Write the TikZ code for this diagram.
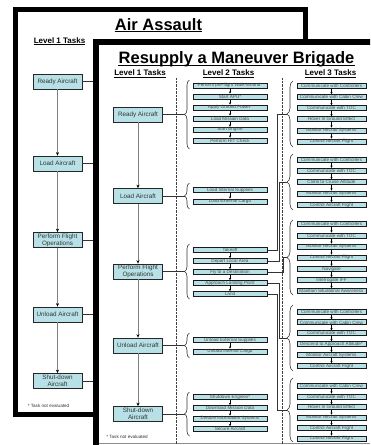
\documentclass[tikz,border=0pt]{standalone}
\usepackage{fontspec}
\setmainfont{Liberation Sans}
\usetikzlibrary{arrows.meta,decorations.pathreplacing}
\definecolor{boxfill}{RGB}{183,225,230}
\begin{document}
\begin{tikzpicture}[x=1pt,y=-1pt,
  l1box/.style={draw=black!85,line width=0.7pt,fill=boxfill,minimum width=49pt,minimum height=15pt,inner sep=0.5pt,align=center,text=black!80,font=\fontsize{6.3}{6.8}\selectfont},
  l2box/.style={draw=black!90,line width=1pt,fill=boxfill,minimum width=74pt,minimum height=5pt,inner sep=0pt,text=black!70,font=\fontsize{4.6}{4.6}\selectfont},
  l3box/.style={l2box,minimum width=69pt},
  titletext/.style={font=\fontsize{16.5}{18}\selectfont\bfseries,inner sep=0pt,anchor=base},
  headtext/.style={font=\fontsize{8}{9}\selectfont\bfseries,inner sep=0pt,anchor=base},
  notetext/.style={font=\fontsize{4.6}{5}\selectfont,inner sep=0pt,text=black!80},
  uline/.style={line width=#1},
  vline/.style={draw=black!50,line width=0.9pt,-{Stealth[length=3.5pt,width=3pt,color=black]}},
  hline/.style={draw=black!80,line width=0.7pt},
  sarr/.style={draw=black,line width=0.5pt,-{Stealth[length=2.2pt,width=2.2pt]}},
  bracetwo/.style={draw=black!80,line width=0.6pt,decorate,decoration={brace,amplitude=5pt,aspect=0.5}},
  bracethree/.style={draw=black!80,line width=0.6pt,decorate,decoration={brace,amplitude=6pt,aspect=0.5}},
  dotline/.style={draw=black!75,line width=0.5pt,dash pattern=on 0.7pt off 0.7pt}
]
\useasboundingbox (0,0) rectangle (370,445);
\clip (0,0) rectangle (370,445);
\fill[white] (0,0) rectangle (370,445);

% ---------------- back panel: Air Assault ----------------
\draw[line width=5pt,fill=white] (15.5,9.5) rectangle (305.5,414.5);
\node[titletext] (tAA) at (158.5,30) {Air Assault};
\draw[uline=1.1pt] ([yshift=-1.8pt]tAA.base west) -- ([yshift=-1.8pt]tAA.base east);
\node[headtext] (bH1) at (59.5,43.3) {Level 1 Tasks};
\draw[uline=0.6pt] ([yshift=-1.3pt]bH1.base west) -- ([yshift=-1.3pt]bH1.base east);

\node[l1box] (bR) at (57.5,81.5) {Ready Aircraft};
\node[l1box] (bL) at (57.5,163.5) {Load Aircraft};
\node[l1box] (bP) at (57.5,240) {Perform Flight\\Operations};
\node[l1box] (bU) at (57.5,314.5) {Unload Aircraft};
\node[l1box] (bS) at (57.5,381) {Shut-down\\Aircraft};
\draw[vline] (bR.south) -- (bL.north);
\draw[vline] (bL.south) -- (bP.north);
\draw[vline] (bP.south) -- (bU.north);
\draw[vline] (bU.south) -- (bS.north);
\foreach \n in {bR,bL,bP,bU,bS}{
  \coordinate (\n e) at (93,0 |- \n.east);
  \draw[hline] (\n.east) -- (\n e);
}
\node[notetext] (bNote) at (48.5,406) {* Task not evaluated};

% ---------------- front panel: Resupply a Maneuver Brigade ----------------
\draw[line width=6pt,fill=white] (96,42) rectangle (420,520);
\draw[black!45,line width=0.8pt] (99,443.5) -- (370,443.5);
\node[titletext] (tRB) at (236.5,63.5) {Resupply a Maneuver Brigade};
\draw[uline=1.1pt] ([yshift=-1.8pt]tRB.base west) -- ([yshift=-1.8pt]tRB.base east);
\node[headtext] (fH1) at (140,75.5) {Level 1 Tasks};
\node[headtext] (fH2) at (228.5,75.5) {Level 2 Tasks};
\node[headtext] (fH3) at (330.5,75.5) {Level 3 Tasks};
\foreach \h in {fH1,fH2,fH3}
  \draw[uline=0.6pt] ([yshift=-1.3pt]\h.base west) -- ([yshift=-1.3pt]\h.base east);

\draw[dotline] (176,78) -- (176,445);
\draw[dotline] (282,78) -- (282,445);

% Level 1
\node[l1box] (fR) at (138,114.5) {Ready Aircraft};
\node[l1box] (fL) at (138,196) {Load Aircraft};
\node[l1box] (fP) at (138,271.5) {Perform Flight\\Operations};
\node[l1box] (fU) at (138,345.5) {Unload Aircraft};
\node[l1box] (fS) at (138,414) {Shut-down\\Aircraft};
\draw[vline] (fR.south) -- (fL.north);
\draw[vline] (fL.south) -- (fP.north);
\draw[vline] (fP.south) -- (fU.north);
\draw[vline] (fU.south) -- (fS.north);
\node[notetext] (fNote) at (127,437) {* Task not evaluated};

% Level 2 braces and connectors
\draw[bracetwo] (189.5,149) -- (189.5,80);
\draw[bracetwo] (189.5,209) -- (189.5,183);
\draw[bracetwo] (189.5,299) -- (189.5,244);
\draw[bracetwo] (189.5,358) -- (189.5,333);
\draw[bracetwo] (189.5,436) -- (189.5,392);
\coordinate (tR) at (184.5,114.5);
\coordinate (tL) at (184.5,196);
\coordinate (tP) at (184.5,271.5);
\coordinate (tU) at (184.5,345.5);
\coordinate (tS) at (184.5,414);
\draw[hline] (fR.east) -- (tR);
\draw[hline] (fL.east) -- (tL);
\draw[hline] (fP.east) -- (tP);
\draw[hline] (fU.east) -- (tU);
\draw[hline] (fS.east) -- (tS);

% Level 2 boxes
\foreach \t/\y [count=\i] in {Perform pre-flight Walk-around*/85.5, Start APU*/96.5, Apply Ground Power*/107.5, Load Mission Data/118.5, Start Engine/129.5, Perform HIT Check/140.5}
  \node[l2box] (r\i) at (230,\y) {\t};
\foreach \t/\y [count=\i] in {Load Internal Supplies/190, Load External Cargo/201.5}
  \node[l2box] (l\i) at (230,\y) {\t};
\foreach \t/\y [count=\i] in {Takeoff/250, Depart Local Area/261, Fly to a Destination/272, Approach Landing Point/283, Land/294}
  \node[l2box] (p\i) at (230,\y) {\t};
\foreach \t/\y [count=\i] in {Unload External Supplies/340, Unload Internal Cargo/351.5}
  \node[l2box] (u\i) at (230,\y) {\t};
\foreach \t/\y [count=\i] in {Shutdown Engines*/397, Download Mission Data/408, Zeroize Information Systems/418.5, Secure Aircraft/429}
  \node[l2box] (s\i) at (230,\y) {\t};
\foreach \a/\b in {r1/r2,r2/r3,r3/r4,r4/r5,r5/r6,l1/l2,p1/p2,p2/p3,p3/p4,p4/p5,u1/u2,s1/s2,s2/s3,s3/s4}
  \draw[sarr] (\a.south) -- (\b.north);

% Level 3 braces
\draw[bracethree] (293,147) -- (293,81);
\draw[bracethree] (293,210) -- (293,154);
\draw[bracethree] (293,295) -- (293,220);
\draw[bracethree] (293,371) -- (293,305);
\draw[bracethree] (293,442) -- (293,378);
\coordinate (tA) at (287,114);
\coordinate (tB) at (287,182);
\coordinate (tC) at (287,257.5);
\coordinate (tD) at (287,338);
\coordinate (tE) at (287,410);
\draw[hline] (p1.east) -- ++(9.5,0) |- (tA);
\draw[hline] (p2.east) -- ++(12,0) |- (tB);
\draw[hline] (p3.east) -- ++(16,0) |- (tC);
\draw[hline] (p4.east) -- ++(12,0) |- (tD);
\draw[hline] (p5.east) -- ++(9.5,0) |- (tE);

% Level 3 boxes
\foreach \t/\y [count=\i] in {Communicate with Controllers/86, Communicate with Cabin Crew/97.1, Communicate with TOC/108.2, Hover In Ground Effect/119.3, Monitor Aircraft Systems/130.5, Control Aircraft Flight/141.6}
  \node[l3box] (ga\i) at (331.5,\y) {\t};
\foreach \t/\y [count=\i] in {Communicate with Controllers/159.5, Communicate with TOC/170.8, Climb to Cruise Altitude/182.2, Monitor Aircraft Systems/193.6, Control Aircraft Flight/205}
  \node[l3box] (gb\i) at (331.5,\y) {\t};
\foreach \t/\y [count=\i] in {Communicate with Controllers/224.3, Communicate with TOC/235.5, Monitor Aircraft Systems/246.6, Control Aircraft Flight/257.7, Navigate/268.9, Interrogate IFF/280, Maintain Situational Awareness/291.1}
  \node[l3box] (gc\i) at (331.5,\y) {\t};
\foreach \t/\y [count=\i] in {Communicate with Controllers/311.5, Communicate with Cabin Crew/322.4, Communicate with TOC/333.3, Descend to Approach Altitude*/344.2, Monitor Aircraft Systems/355.1, Control Aircraft Flight/366}
  \node[l3box] (gd\i) at (331.5,\y) {\t};
\foreach \t/\y [count=\i] in {Communicate with Cabin Crew/386, Communicate with TOC/396.6, Hover In Ground Effect/407.2, Monitor Aircraft Systems/417.7, Control Aircraft Flight/428.2, Control Aircraft Flight/438.6}
  \node[l3box] (ge\i) at (331.5,\y) {\t};
\foreach \a/\b in {ga1/ga2,ga2/ga3,ga3/ga4,ga4/ga5,ga5/ga6,gb1/gb2,gb2/gb3,gb3/gb4,gb4/gb5,gc1/gc2,gc2/gc3,gc3/gc4,gc4/gc5,gc5/gc6,gc6/gc7,gd1/gd2,gd2/gd3,gd3/gd4,gd4/gd5,gd5/gd6,ge1/ge2,ge2/ge3,ge3/ge4,ge4/ge5,ge5/ge6}
  \draw[sarr] (\a.south) -- (\b.north);
\end{tikzpicture}
\end{document}
